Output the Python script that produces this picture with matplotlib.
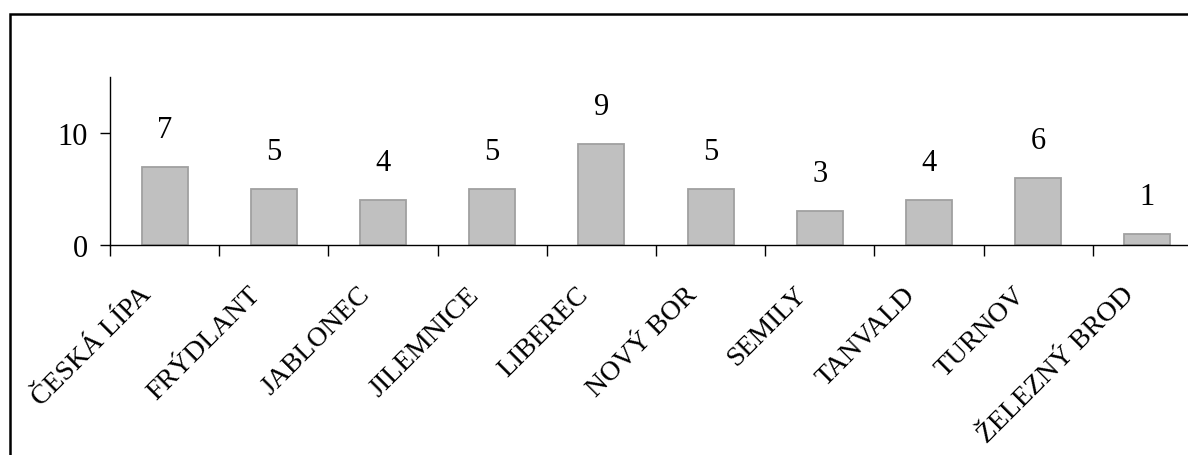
import matplotlib.pyplot as plt
import numpy as np
from matplotlib.patches import Rectangle
from matplotlib.transforms import ScaledTranslation

towns = ["ČESKÁ LÍPA", "FRÝDLANT", "JABLONEC", "JILEMNICE", "LIBEREC",
         "NOVÝ BOR", "SEMILY", "TANVALD", "TURNOV", "ŽELEZNÝ BROD"]
counts = [7, 5, 4, 5, 9, 5, 3, 4, 6, 1]

plt.rcParams['font.family'] = ['Liberation Serif', 'DejaVu Serif']
FS = 22

fig = plt.figure(figsize=(11.88, 4.56), dpi=100)

# outer frame, runs off the right and bottom edge
fig.patches.append(Rectangle((10 / 1188, -0.05), 1.2, 1.05 - 14.5 / 456,
                             transform=fig.transFigure, fill=False,
                             edgecolor="black", linewidth=1.8, clip_on=False))

ax = fig.add_axes([110 / 1188, 210.3 / 456, 1092 / 1188, 167.5 / 456])
x = np.arange(len(towns))
ax.bar(x, counts, width=0.42, color="#c0c0c0", edgecolor="#a0a0a0",
       linewidth=1.3, zorder=2)

for xi, v in zip(x, counts):
    ax.annotate(str(v), (xi, v), xytext=(0, 27), textcoords="offset points",
                ha="center", va="center", fontsize=FS)

ax.set_xlim(-0.5, len(towns) - 0.5)
ax.set_ylim(0, 15)
ax.set_yticks([0, 10])
ax.tick_params(axis="y", length=7.2, width=1, labelsize=FS, pad=9)

ax.set_xticks(x)
ax.set_xticks(np.arange(-0.5, len(towns), 1.0), minor=True)
ax.tick_params(axis="x", which="minor", length=8, width=1)
ax.tick_params(axis="x", which="major", length=0, pad=33)
ax.set_xticklabels(towns, rotation=45, ha="right", va="center",
                   rotation_mode="anchor", fontsize=20)
for lab in ax.get_xticklabels():
    lab.set_transform(lab.get_transform() +
                      ScaledTranslation(-0.17, 0, fig.dpi_scale_trans))

for side in ("top", "right"):
    ax.spines[side].set_visible(False)
for side in ("left", "bottom"):
    ax.spines[side].set_linewidth(1.0)
ax.spines["bottom"].set_clip_on(False)

fig.savefig("out.png", dpi=100)
